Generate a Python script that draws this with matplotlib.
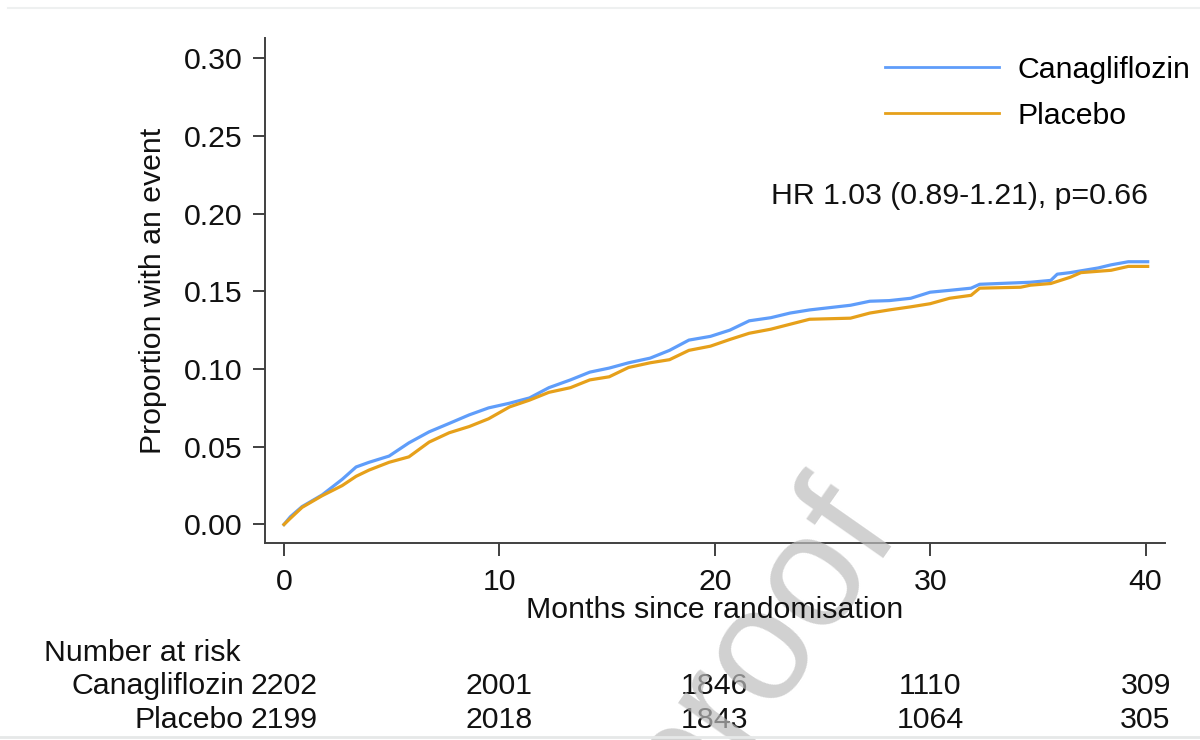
import matplotlib
matplotlib.use("Agg")
import matplotlib.pyplot as plt
import matplotlib.transforms as mtransforms
from matplotlib.lines import Line2D

plt.rcParams['font.family'] = ['Liberation Sans', 'DejaVu Sans']

# ---- data ----
cana_t = [0, 0.3, 0.84, 1.77, 2.7, 3.35, 3.95, 4.88, 5.8, 6.74, 7.67, 8.6, 9.5, 10.47,
          11.4, 12.3, 13.3, 14.2, 15.1, 16.0, 17.0, 17.9, 18.8, 19.8, 20.7, 21.6, 22.6,
          23.5, 24.4, 26.3, 27.2, 28.1, 29.1, 30.0, 30.9, 31.9, 32.3, 34.65, 35.6, 35.9,
          36.5, 37.8, 38.4, 39.2, 40.1]
cana_y = [0, 0.005, 0.0115, 0.019, 0.029, 0.037, 0.040, 0.044, 0.0525, 0.0596, 0.065,
          0.0705, 0.075, 0.078, 0.0814, 0.088, 0.093, 0.098, 0.1006, 0.104, 0.107, 0.112,
          0.1186, 0.121, 0.125, 0.131, 0.133, 0.136, 0.138, 0.141, 0.1436, 0.144, 0.1455,
          0.1494, 0.1506, 0.152, 0.1545, 0.1558, 0.157, 0.161, 0.162, 0.165, 0.167, 0.169,
          0.169]

plac_t = [0, 0.3, 0.84, 1.77, 2.7, 3.35, 3.95, 4.88, 5.8, 6.74, 7.67, 8.6, 9.5, 10.47,
          11.4, 12.3, 13.3, 14.2, 15.1, 16.0, 17.0, 17.9, 18.8, 19.8, 20.7, 21.6, 22.6,
          23.5, 24.4, 26.3, 27.2, 28.1, 29.1, 30.0, 30.9, 31.9, 32.3, 34.2, 34.65, 35.6,
          36.5, 37.0, 38.4, 39.2, 40.1]
plac_y = [0, 0.004, 0.011, 0.0185, 0.025, 0.031, 0.035, 0.040, 0.0435, 0.053, 0.059,
          0.063, 0.068, 0.0756, 0.080, 0.085, 0.088, 0.093, 0.095, 0.101, 0.104, 0.106,
          0.112, 0.1147, 0.119, 0.123, 0.1256, 0.1288, 0.132, 0.1327, 0.136, 0.138, 0.140,
          0.142, 0.1455, 0.1474, 0.152, 0.1526, 0.1539, 0.155, 0.159, 0.162, 0.1635, 0.166,
          0.166]

group_names = ["Canagliflozin", "Placebo"]
risk_times = [0, 10, 20, 30, 40]
risk_cana = [2202, 2001, 1846, 1110, 309]
risk_plac = [2199, 2018, 1843, 1064, 305]
x_ticks = [0, 10, 20, 30, 40]
y_ticks = [0.00, 0.05, 0.10, 0.15, 0.20, 0.25, 0.30]

BLUE = '#5f9dfa'
ORANGE = '#e6a01a'
TXT = '#111111'
FS = 21.8
W, H = 1200, 740

fig = plt.figure(figsize=(12, 7.4), dpi=100)
fig.patch.set_facecolor('white')

L, R, T, B = 265, 1164.5, 38, 543
ax = fig.add_axes([L / W, 1 - B / H, (R - L) / W, (B - T) / H])

ax.plot(cana_t, cana_y, color=BLUE, lw=2.3, label=group_names[0], zorder=3)
ax.plot(plac_t, plac_y, color=ORANGE, lw=2.3, label=group_names[1], zorder=4)

ax.set_xlim(-0.88, 40.88)
ax.set_ylim(-0.0119, 0.3129)
ax.set_xticks(x_ticks)
ax.set_yticks(y_ticks)
ax.set_yticklabels([f"{v:.2f}" for v in y_ticks])

for s in ['top', 'right']:
    ax.spines[s].set_visible(False)
for s in ['left', 'bottom']:
    ax.spines[s].set_color('#404040')
    ax.spines[s].set_linewidth(1.4)
ax.tick_params(axis='both', direction='out', length=9, width=1.4, color='#404040',
               labelsize=FS, labelcolor=TXT)
ax.tick_params(axis='y', pad=7)
ax.tick_params(axis='x', pad=9)

ax.set_ylabel("Proportion with an event", fontsize=FS, color=TXT, labelpad=12)
fig.text(715 / W, 1 - 610 / H, "Months since randomisation", fontsize=FS,
         ha='center', va='center', color=TXT)

leg = ax.legend(loc='upper left', bbox_to_anchor=(885 / W, 1 - 56 / H),
                bbox_transform=fig.transFigure, frameon=False, fontsize=FS,
                handlelength=3.75, handletextpad=0.62, labelspacing=0.58,
                borderpad=0, borderaxespad=0)
for h in leg.legend_handles:
    h.set_linewidth(2.0)

ax.text(40.1, 0.2115, "HR 1.03 (0.89-1.21), p=0.66", fontsize=FS, ha='right',
        va='center', color=TXT)

# ---- number at risk table ----
fig.text(44 / W, 1 - 653 / H, "Number at risk", fontsize=FS, ha='left', va='center', color=TXT)
trans = mtransforms.blended_transform_factory(ax.transData, fig.transFigure)
label_x = 244 / W
for row_y, name, vals in [(686, group_names[0], risk_cana), (720, group_names[1], risk_plac)]:
    fig.text(label_x, 1 - row_y / H, name, fontsize=FS, ha='right', va='center', color=TXT)
    for t, v in zip(risk_times, vals):
        ax.text(t, 1 - row_y / H, str(v), transform=trans, fontsize=FS, ha='center',
                va='center', color=TXT, clip_on=False)

# ---- watermark ----
fig.text(758 / W, 1 - 650 / H, "proof", fontsize=116, rotation=55, ha='center', va='center',
         color='#bdbdbd', alpha=0.7, zorder=0)

# thin light borders at top and bottom
fig.add_artist(Line2D([8 / W, 1], [1 - 8 / H, 1 - 8 / H], transform=fig.transFigure,
                      color='#eef0f0', lw=1.5))
fig.add_artist(Line2D([0, 1], [1 - 737 / H, 1 - 737 / H], transform=fig.transFigure,
                      color='#e6e8e8', lw=2))

fig.savefig("out.png", dpi=100, facecolor='white')
